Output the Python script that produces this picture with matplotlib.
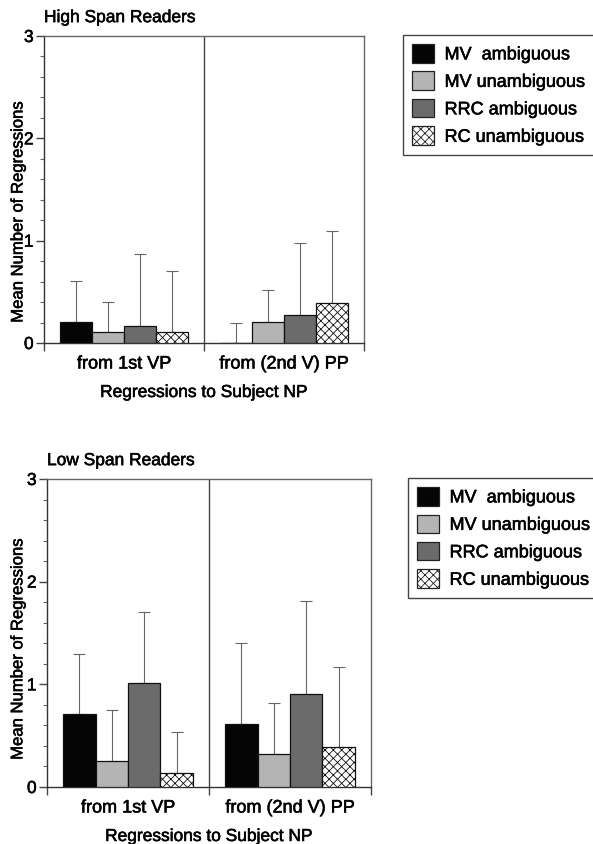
import matplotlib.pyplot as plt
import matplotlib.patheffects as pe
from matplotlib.patches import Patch
from matplotlib.text import Text
import numpy as np

plt.rcParams["font.family"] = ["Liberation Sans", "DejaVu Sans"]
plt.rcParams["hatch.linewidth"] = 0.6

categories = ["from 1st VP", "from (2nd V) PP"]
conditions = ["MV  ambiguous", "MV unambiguous", "RRC ambiguous", "RC unambiguous"]
colors = ["#050505", "#b4b4b4", "#6b6b6b", "white"]
hatches = [None, None, None, "xxxx"]

# means per category (rows) and condition (columns), with upper SD bars
high_mean = [[0.21, 0.11, 0.17, 0.11], [0.00, 0.21, 0.27, 0.39]]
high_sd = [[0.40, 0.29, 0.70, 0.59], [0.20, 0.31, 0.71, 0.70]]
low_mean = [[0.71, 0.25, 1.01, 0.135], [0.61, 0.32, 0.91, 0.39]]
low_sd = [[0.59, 0.50, 0.69, 0.40], [0.79, 0.50, 0.90, 0.78]]

W, H = 593, 844
fig = plt.figure(figsize=(W / 100, H / 100), dpi=100)


def draw_panel(ax, title, means, sds, ylab_xy):
    means = np.asarray(means)
    sds = np.asarray(sds)
    width = 0.2
    for j in range(len(conditions)):
        x = np.arange(len(categories)) + 0.5 + (j - 1.5) * width
        ax.bar(x, means[:, j], width, color=colors[j], edgecolor="#111111",
               linewidth=0.9, hatch=hatches[j], zorder=3)
        ax.errorbar(x, means[:, j], yerr=[np.zeros(len(x)), sds[:, j]],
                    fmt="none", ecolor="#666666", elinewidth=0.8, capsize=4,
                    capthick=0.8, zorder=2)
    ax.axvline(1, color="#444444", lw=1, zorder=1)
    ax.set_xlim(0, 2)
    ax.set_ylim(0, 3)
    ax.set_yticks([0, 1, 2, 3])
    ax.set_yticks(np.arange(0, 3.01, 0.2), minor=True)
    ax.set_xticks([0.5, 1.5], categories)
    ax.set_xticks([0, 1, 2], minor=True)
    ax.tick_params(axis="x", which="major", length=0, pad=9, labelsize=13)
    ax.tick_params(axis="x", which="minor", length=6, width=1, color="#444444")
    ax.tick_params(axis="y", which="major", length=6, width=1, labelsize=12.5,
                   color="#444444", pad=1.5)
    ax.tick_params(axis="y", which="minor", length=3, width=0.8, color="#666666")
    for side in ["left", "bottom"]:
        ax.spines[side].set_color("#333333")
        ax.spines[side].set_linewidth(1)
    for side in ["top", "right"]:
        ax.spines[side].set_color("#666666")
        ax.spines[side].set_linewidth(1)
    ax.set_ylabel("Mean Number of Regressions", fontsize=12)
    ax.yaxis.set_label_coords(*ylab_xy)
    ax.set_xlabel("Regressions to Subject NP", fontsize=12.5, labelpad=9)
    ax.set_title(title, loc="left", fontsize=12.5, pad=10)


def add_legend(x0, y0):
    handles = [Patch(facecolor=c, edgecolor="#222222", hatch=h, linewidth=0.9)
               for c, h in zip(colors, hatches)]
    leg = fig.legend(handles, conditions, loc="upper left",
                     bbox_to_anchor=(x0 / W, 1 - y0 / H), bbox_transform=fig.transFigure,
                     borderaxespad=0, fontsize=13, handlelength=1.2, handleheight=1.2,
                     handletextpad=0.6, labelspacing=0.45, borderpad=0.5,
                     fancybox=False, framealpha=1, edgecolor="#444444")
    leg.get_frame().set_linewidth(1)


ax_high = fig.add_axes([44 / W, 1 - 343 / H, 320 / W, 307 / H])
draw_panel(ax_high, "High Span Readers", high_mean, high_sd, (-0.058, 0.427))
add_legend(403, 35)

ax_low = fig.add_axes([47 / W, 1 - 787 / H, 324 / W, 308 / H])
draw_panel(ax_low, "Low Span Readers", low_mean, low_sd, (-0.067, 0.448))
add_legend(408, 478)

# slightly heavier lettering, like the printed figure
for t in fig.findobj(Text):
    t.set_path_effects([pe.withStroke(linewidth=0.4, foreground="black")])

fig.savefig("out.png", dpi=100)
